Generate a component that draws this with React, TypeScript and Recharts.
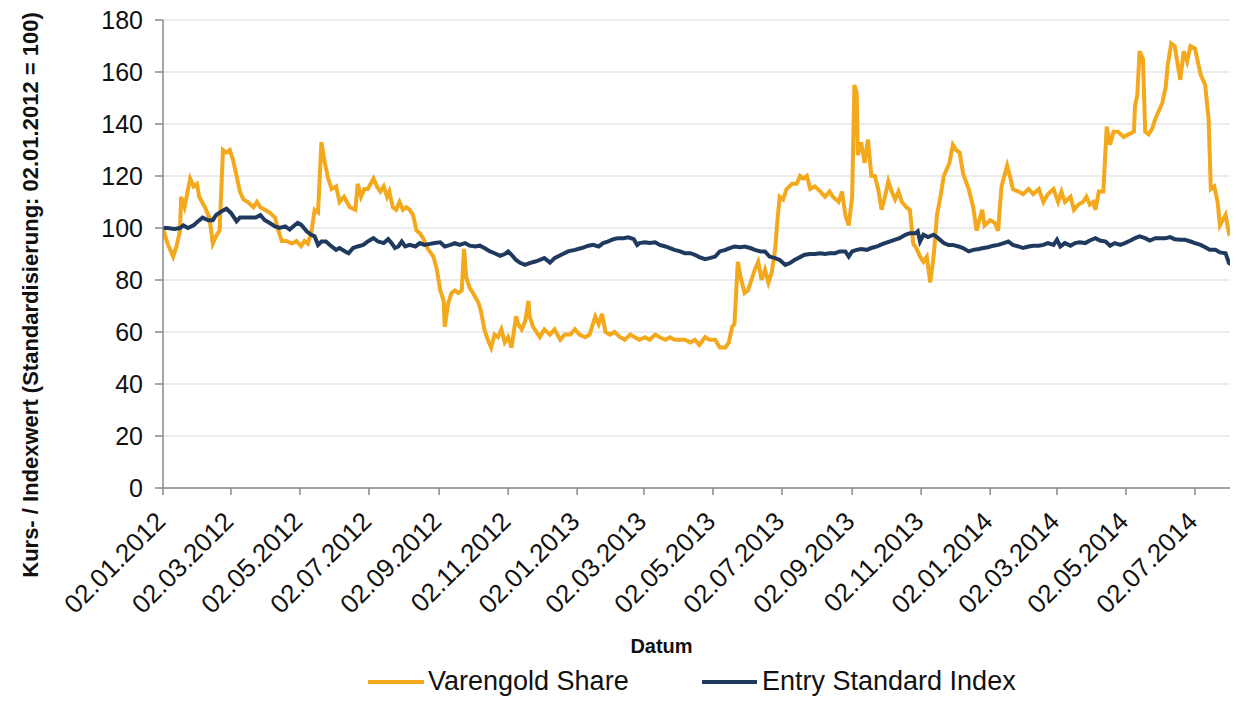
import React from 'react';
import { LineChart, Line, XAxis, YAxis, CartesianGrid, Legend } from 'recharts';

// x values are days since 02.01.2012
const varengoldDays = [
  0, 4, 9, 12, 15, 16, 19, 24, 27, 30, 32, 37, 41, 44, 47, 50, 53, 56, 59, 62,
  65, 68, 71, 75, 80, 83, 86, 90, 94, 99, 102, 105, 109, 114, 118, 122, 125, 128, 131, 134,
  137, 140, 143, 146, 149, 153, 156, 160, 165, 170, 172, 175, 178, 181, 186, 189, 192, 195, 198, 200,
  203, 206, 209, 212, 215, 218, 221, 224, 227, 230, 234, 239, 242, 245, 248, 249, 252, 255, 258, 261,
  264, 266, 268, 271, 274, 279, 281, 284, 287, 290, 293, 296, 299, 302, 305, 308, 312, 314, 317, 320,
  323, 324, 327, 330, 333, 337, 342, 346, 351, 355, 360, 364, 368, 373, 377, 382, 385, 388, 391, 395,
  399, 404, 408, 413, 417, 421, 426, 430, 435, 439, 444, 448, 452, 457, 461, 466, 470, 474, 479, 483,
  488, 492, 497, 500, 503, 505, 508, 511, 514, 517, 520, 523, 526, 529, 532, 535, 538, 541, 543, 545,
  548, 551, 556, 560, 563, 566, 569, 572, 576, 581, 585, 589, 592, 597, 600, 603, 606, 609, 611, 613,
  614, 617, 620, 623, 626, 629, 632, 635, 638, 641, 644, 647, 650, 653, 657, 660, 663, 666, 669, 672,
  675, 678, 681, 684, 687, 690, 693, 695, 698, 701, 704, 707, 712, 716, 719, 724, 726, 731, 735, 738,
  741, 746, 749, 751, 756, 760, 765, 769, 774, 778, 782, 787, 791, 794, 797, 802, 805, 809, 813, 816,
  819, 822, 824, 827, 831, 834, 837, 840, 844, 849, 853, 858, 859, 861, 863, 866, 868, 871, 874, 877,
  880, 883, 886, 888, 891, 894, 899, 902, 905, 908, 912, 917, 921, 924, 926, 929, 932, 934, 939, 942,
  945, 947, 950,
];
const varengoldValues = [
  100, 94, 89, 93, 99, 112, 108, 119, 116, 117, 112, 108, 104, 94, 97, 99, 130, 129, 130, 126,
  120, 114, 111, 110, 108, 110, 108, 107, 106, 104, 99, 95, 95, 94, 95, 93, 95, 94, 98, 107,
  106, 133, 125, 119, 115, 116, 110, 112, 108, 107, 117, 112, 115, 115, 119, 116, 114, 116, 112, 114,
  108, 107, 110, 107, 108, 107, 105, 99, 98, 96, 92, 89, 84, 76, 72, 62, 71, 75, 76, 75,
  76, 92, 81, 77, 75, 71, 68, 61, 57, 54, 59, 58, 61, 56, 58, 54, 66, 63, 61, 64,
  72, 66, 62, 60, 58, 61, 59, 61, 57, 59, 59, 61, 59, 58, 59, 66, 63, 67, 60, 59,
  60, 58, 57, 59, 58, 57, 58, 57, 59, 58, 57, 58, 57, 57, 57, 56, 57, 55, 58, 57,
  57, 54, 54, 56, 62, 63, 87, 80, 75, 76, 80, 84, 87, 80, 84, 79, 83, 92, 103, 112,
  111, 115, 117, 117, 120, 119, 120, 115, 116, 114, 112, 114, 112, 110, 114, 105, 101, 112, 155, 152,
  128, 133, 125, 134, 120, 120, 115, 107, 112, 118, 114, 111, 114, 110, 108, 107, 94, 92, 89, 87,
  89, 79, 89, 105, 112, 120, 123, 125, 132, 130, 129, 121, 115, 108, 99, 107, 101, 103, 102, 99,
  116, 124, 119, 115, 114, 113, 115, 113, 115, 110, 113, 115, 110, 114, 110, 112, 107, 109, 110, 112,
  109, 110, 107, 114, 114, 139, 132, 137, 137, 135, 136, 137, 147, 151, 168, 165, 137, 136, 138, 142,
  145, 148, 154, 163, 171, 170, 157, 168, 164, 170, 169, 159, 155, 142, 115, 116, 110, 101, 105, 98,
  99, 101, 101,
];

const indexDays = [
  0, 4, 10, 15, 18, 22, 27, 31, 35, 40, 44, 47, 52, 56, 60, 65, 68, 72, 78, 82,
  86, 90, 94, 99, 103, 108, 112, 115, 119, 122, 127, 131, 134, 137, 140, 144, 149, 153, 156, 161,
  164, 168, 172, 177, 181, 186, 190, 195, 199, 202, 205, 208, 211, 214, 218, 223, 227, 231, 236, 240,
  245, 249, 254, 258, 262, 267, 271, 276, 280, 284, 289, 293, 298, 302, 305, 308, 312, 316, 320, 324,
  329, 333, 337, 342, 346, 352, 358, 364, 370, 376, 380, 385, 389, 393, 398, 402, 407, 411, 416, 419,
  421, 426, 430, 435, 439, 444, 448, 452, 457, 461, 466, 470, 474, 479, 483, 488, 492, 497, 501, 505,
  510, 514, 519, 523, 528, 532, 536, 541, 545, 550, 554, 558, 563, 567, 572, 576, 581, 585, 589, 594,
  598, 603, 606, 609, 613, 617, 622, 626, 631, 634, 638, 642, 647, 651, 656, 660, 665, 667, 669, 672,
  676, 681, 685, 690, 694, 698, 703, 707, 712, 716, 721, 725, 729, 734, 738, 743, 747, 751, 756, 760,
  765, 769, 774, 778, 782, 787, 790, 793, 797, 802, 806, 810, 815, 819, 824, 828, 833, 837, 841, 846,
  850, 855, 859, 863, 868, 872, 877, 881, 886, 890, 894, 899, 903, 908, 912, 917, 921, 925, 930, 934,
  939, 942, 946, 950,
];
const indexValues = [
  100, 100, 99.6, 100, 101, 100, 101, 102.6, 104, 103, 103, 105, 106.5, 107.4, 105.8, 102.6, 104, 104, 104, 104,
  105, 103, 102, 100.6, 100, 100.6, 99.4, 100.6, 102, 101.3, 98.7, 97.4, 96.8, 93.5, 94.8, 94.8, 92.9, 91.6, 92.3, 91,
  90.3, 92.3, 92.9, 93.5, 94.8, 96.1, 94.8, 94.2, 95.7, 94.2, 92.3, 92.9, 94.8, 92.9, 93.5, 92.9, 94.2, 93.5, 93.9, 94.2,
  94.5, 92.9, 93.5, 94.2, 93.5, 94.2, 93.2, 92.9, 93.2, 92.3, 91, 90.3, 89.3, 90, 91, 89.7, 87.7, 86.5, 85.8, 86.5,
  87.1, 87.7, 88.4, 86.7, 88.4, 89.7, 91, 91.6, 92.3, 93.2, 93.5, 92.9, 94.2, 94.8, 95.7, 96.1, 96.1, 96.4, 95.7, 93.5,
  94.2, 94.5, 94.2, 94.5, 93.5, 92.9, 92.3, 91.6, 91, 90.3, 90.3, 89.7, 88.8, 88, 88.4, 89, 91, 91.6, 92.3, 92.9,
  92.6, 92.9, 92.3, 91.6, 91, 91, 89, 88.4, 87.7, 85.8, 86.5, 87.7, 88.8, 89.7, 90, 90, 90.3, 90, 90.3, 90.3,
  91, 91, 89, 91, 91.6, 91.9, 91.6, 92.3, 92.9, 93.5, 94.2, 94.8, 95.5, 96.1, 97.4, 98, 98, 98.7, 94.8, 97.4,
  96.5, 97.4, 96.1, 94.2, 93.5, 93.5, 92.9, 92.3, 91, 91.6, 91.9, 92.3, 92.6, 93.2, 93.5, 94.2, 94.8, 93.5, 92.9, 92.3,
  92.9, 93.2, 93.2, 93.5, 94.2, 93.5, 95.5, 92.9, 94.2, 93.2, 94.2, 94.5, 94.2, 95.2, 96.1, 95.2, 94.8, 93.2, 94.2, 93.5,
  94.2, 95.2, 96.1, 96.8, 96.1, 95.2, 96.1, 96.1, 96.1, 96.5, 95.7, 95.5, 95.5, 94.8, 94.2, 93.5, 92.6, 91.6, 91.6, 90.6,
  90.3, 86.5, 85.8, 83.9,
];

const tickLabels = [
  '02.01.2012', '02.03.2012', '02.05.2012', '02.07.2012', '02.09.2012', '02.11.2012',
  '02.01.2013', '02.03.2013', '02.05.2013', '02.07.2013', '02.09.2013', '02.11.2013',
  '02.01.2014', '02.03.2014', '02.05.2014', '02.07.2014',
];
const yTicks = [0, 20, 40, 60, 80, 100, 120, 140, 160, 180];

const seriesNames = ['Varengold Share', 'Entry Standard Index'];
const ORANGE = '#F4A81C';
const NAVY = '#1F3A5E';
const AXIS = '#8a8a8a';
const FONT = '"Liberation Sans", Arial, sans-serif';

const START = Date.UTC(2012, 0, 2);
const DAY = 86400000;
const dayOf = (label: string) => {
  const [d, m, y] = label.split('.').map(Number);
  return Math.round((Date.UTC(y, m - 1, d) - START) / DAY);
};
const pad = (n: number) => (n < 10 ? '0' + n : '' + n);
const labelOf = (day: number) => {
  const dt = new Date(START + day * DAY);
  return `${pad(dt.getUTCDate())}.${pad(dt.getUTCMonth() + 1)}.${dt.getUTCFullYear()}`;
};

const xTicks = tickLabels.map(dayOf);
const varengoldData = varengoldDays.map((d, i) => ({ day: d, value: varengoldValues[i] }));
const indexData = indexDays.map((d, i) => ({ day: d, value: indexValues[i] }));

const XTick = ({ x, y, payload }: any) => (
  <g transform={`translate(${x + 4},${y + 26}) rotate(-45)`}>
    <text x={0} y={0} textAnchor="end" fontSize={26} fontFamily={FONT} fill="#111">
      {labelOf(payload.value)}
    </text>
  </g>
);

const YTitle = ({ viewBox }: any) => {
  const cx = viewBox.x + 37.5;
  const cy = viewBox.y + viewBox.height / 2 + 41;
  return (
    <text
      x={cx}
      y={cy}
      transform={`rotate(-90, ${cx}, ${cy})`}
      textAnchor="middle"
      fontSize={22}
      fontWeight="bold"
      fontFamily={FONT}
      fill="#111"
    >
      Kurs- / Indexwert (Standardisierung: 02.01.2012 = 100)
    </text>
  );
};

const XTitle = ({ viewBox }: any) => (
  <text
    x={viewBox.x + viewBox.width / 2 - 39}
    y={viewBox.y + 165}
    textAnchor="middle"
    fontSize={20}
    fontWeight="bold"
    fontFamily={FONT}
    fill="#111"
  >
    Datum
  </text>
);

const LegendBox = () => (
  <div style={{ position: 'relative', height: 36, fontFamily: FONT, fontSize: 27, color: '#111' }}>
    <span style={{ position: 'absolute', left: 368, top: 17, width: 56, height: 4, background: ORANGE }} />
    <span style={{ position: 'absolute', left: 428, top: 0, lineHeight: '36px', whiteSpace: 'nowrap' }}>
      {seriesNames[0]}
    </span>
    <span style={{ position: 'absolute', left: 702, top: 17, width: 55, height: 4, background: NAVY }} />
    <span style={{ position: 'absolute', left: 762, top: 0, lineHeight: '36px', whiteSpace: 'nowrap' }}>
      {seriesNames[1]}
    </span>
  </div>
);

export default function App() {
  return (
    <div style={{ margin: -8, width: 1238, height: 704 }}>
      <LineChart width={1238} height={704} margin={{ top: 20, right: 0, left: 0, bottom: 5 }}>
        <CartesianGrid vertical={false} stroke="#d9d9d9" strokeWidth={1.2} />
        <XAxis
          type="number"
          dataKey="day"
          domain={[0, 950]}
          ticks={xTicks}
          interval={0}
          allowDataOverflow
          height={175}
          tickSize={7}
          stroke={AXIS}
          strokeWidth={1.5}
          tick={<XTick />}
          label={<XTitle />}
        />
        <YAxis
          type="number"
          domain={[0, 180]}
          ticks={yTicks}
          interval={0}
          width={163}
          tickSize={8}
          tickMargin={12}
          stroke={AXIS}
          strokeWidth={1.5}
          tick={{ fontSize: 25, fontFamily: FONT, fill: '#111' }}
          label={<YTitle />}
        />
        <Legend
          verticalAlign="bottom"
          height={36}
          content={<LegendBox />}
          wrapperStyle={{ left: 0, width: 1238 }}
        />
        <Line
          data={varengoldData}
          dataKey="value"
          name={seriesNames[0]}
          type="linear"
          stroke={ORANGE}
          strokeWidth={4}
          dot={false}
          isAnimationActive={false}
        />
        <Line
          data={indexData}
          dataKey="value"
          name={seriesNames[1]}
          type="linear"
          stroke={NAVY}
          strokeWidth={4}
          dot={false}
          isAnimationActive={false}
        />
      </LineChart>
    </div>
  );
}
